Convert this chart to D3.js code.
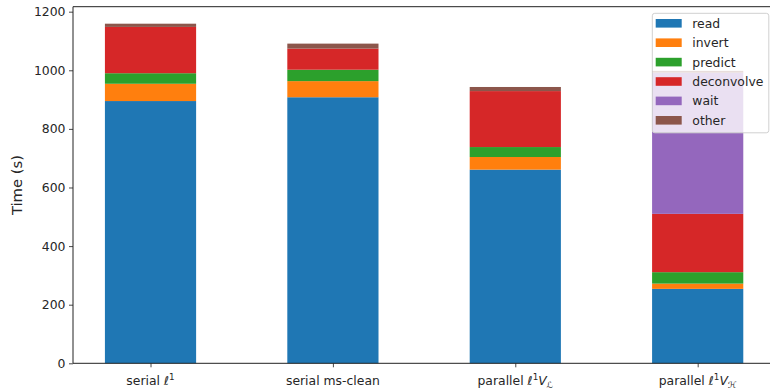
<!DOCTYPE html>
<html>
<head>
<meta charset="utf-8">
<script src="https://cdn.jsdelivr.net/npm/d3@7"></script>
<style>
  html, body { margin: 0; padding: 0; background: #fff; }
  svg { display: block; font-family: "DejaVu Sans", sans-serif; }
</style>
</head>
<body>
<svg id="chart" width="770" height="389"></svg>
<script>
// Run configurations (x categories)
const categories = ["serial l1", "serial ms-clean", "parallel l1 VL", "parallel l1 VH"];

// Time spent per stage, seconds
const read       = [895, 908, 661, 254];
const invert     = [59, 55, 43, 18];
const predict    = [36, 39, 34, 39];
const deconvolve = [158, 72, 191, 199];
const wait       = [0, 0, 0, 482];
const other      = [11, 17, 14, 6];

const seriesNames = ["read", "invert", "predict", "deconvolve", "wait", "other"];
const seriesColors = ["#1f77b4", "#ff7f0e", "#2ca02c", "#d62728", "#9467bd", "#8c564b"];
const yTicks = [0, 200, 400, 600, 800, 1000, 1200];

const seriesValues = [read, invert, predict, deconvolve, wait, other];
const table = categories.map((c, i) => {
  const row = { cat: c, idx: i };
  seriesNames.forEach((s, k) => row[s] = seriesValues[k][i]);
  return row;
});

const svg = d3.select("#chart");
const mLeft = 73, mRight = 775.2, mTop = 6.7, mBottom = 363.3;

const x = d3.scaleLinear().domain([-0.425, 3.425]).range([mLeft, mRight]);
const y = d3.scaleLinear().domain([0, 1217]).range([mBottom, mTop]);
const barW = 0.5;

const stacked = d3.stack().keys(seriesNames)(table);

const gBars = svg.append("g");
stacked.forEach((layer, k) => {
  gBars.selectAll(null)
    .data(layer)
    .enter().append("rect")
    .attr("x", d => x(d.data.idx - barW / 2))
    .attr("width", d => x(d.data.idx + barW / 2) - x(d.data.idx - barW / 2))
    .attr("y", d => y(d[1]))
    .attr("height", d => Math.max(0, y(d[0]) - y(d[1])))
    .attr("fill", seriesColors[k]);
});

// Axes
const yAxis = d3.axisLeft(y).tickValues(yTicks).tickSize(4).tickPadding(3.5).tickFormat(d3.format("d"));
const gy = svg.append("g").attr("transform", `translate(${mLeft},0)`).call(yAxis);
gy.select(".domain").remove();
gy.selectAll("line").attr("stroke", "#333").attr("stroke-width", 0.9);
gy.selectAll("text").attr("font-size", "12.4px").attr("fill", "#262626")
  .attr("font-family", "DejaVu Sans, sans-serif");

const xAxis = d3.axisBottom(x).tickValues([0, 1, 2, 3]).tickSize(4).tickFormat(() => "");
const gx = svg.append("g").attr("transform", `translate(0,${mBottom})`).call(xAxis);
gx.select(".domain").remove();
gx.selectAll("line").attr("stroke", "#333").attr("stroke-width", 0.9);

// X tick labels with math-style parts
const labelParts = [
  [["serial ", "n"], ["ℓ", "i"], ["1", "sup"]],
  [["serial ms-clean", "n"]],
  [["parallel ", "n"], ["ℓ", "i"], ["1", "sup"], ["V", "i"], ["ℒ", "sub"]],
  [["parallel ", "n"], ["ℓ", "i"], ["1", "sup"], ["V", "i"], ["ℋ", "sub"]]
];
labelParts.forEach((parts, i) => {
  const t = svg.append("text")
    .attr("x", x(i)).attr("y", mBottom + 21.5)
    .attr("text-anchor", "middle")
    .attr("font-size", "12.4px").attr("fill", "#262626");
  let shift = 0;
  parts.forEach(([txt, kind]) => {
    const ts = t.append("tspan").text(txt);
    let target = 0;
    if (kind === "i") ts.attr("font-style", "italic");
    if (kind === "sup") { ts.attr("font-size", "8.8px"); target = -5; }
    if (kind === "sub") { ts.attr("font-size", "8.8px").attr("font-style", "italic"); target = 3; }
    ts.attr("dy", target - shift);
    shift = target;
  });
});

// Spines
const spine = (x1, y1, x2, y2) => svg.append("line")
  .attr("x1", x1).attr("y1", y1).attr("x2", x2).attr("y2", y2)
  .attr("stroke", "#222").attr("stroke-width", 1);
spine(mLeft, mTop, mLeft, mBottom);
spine(mLeft, mBottom, mRight, mBottom);
spine(mLeft, mTop, mRight, mTop);
spine(mRight, mTop, mRight, mBottom);

// Y label
svg.append("text")
  .attr("transform", `translate(22,${(mTop + mBottom) / 2}) rotate(-90)`)
  .attr("text-anchor", "middle")
  .attr("font-size", "14.8px").attr("fill", "#262626")
  .text("Time (s)");

// Legend
const lg = svg.append("g").attr("transform", "translate(652.3,13.3)");
lg.append("rect").attr("width", 116.5).attr("height", 119.5).attr("rx", 2.5)
  .attr("fill", "#fff").attr("fill-opacity", 0.8)
  .attr("stroke", "#d0d0d0").attr("stroke-width", 1);
seriesNames.forEach((s, k) => {
  const cy = 10 + k * 19.4;
  lg.append("rect").attr("x", 3.4).attr("y", cy - 4.3).attr("width", 26).attr("height", 8.6)
    .attr("fill", seriesColors[k]);
  lg.append("text").attr("x", 40).attr("y", cy).attr("dy", "0.36em")
    .attr("font-size", "12.4px").attr("fill", "#262626").text(s);
});
</script>
</body>
</html>
